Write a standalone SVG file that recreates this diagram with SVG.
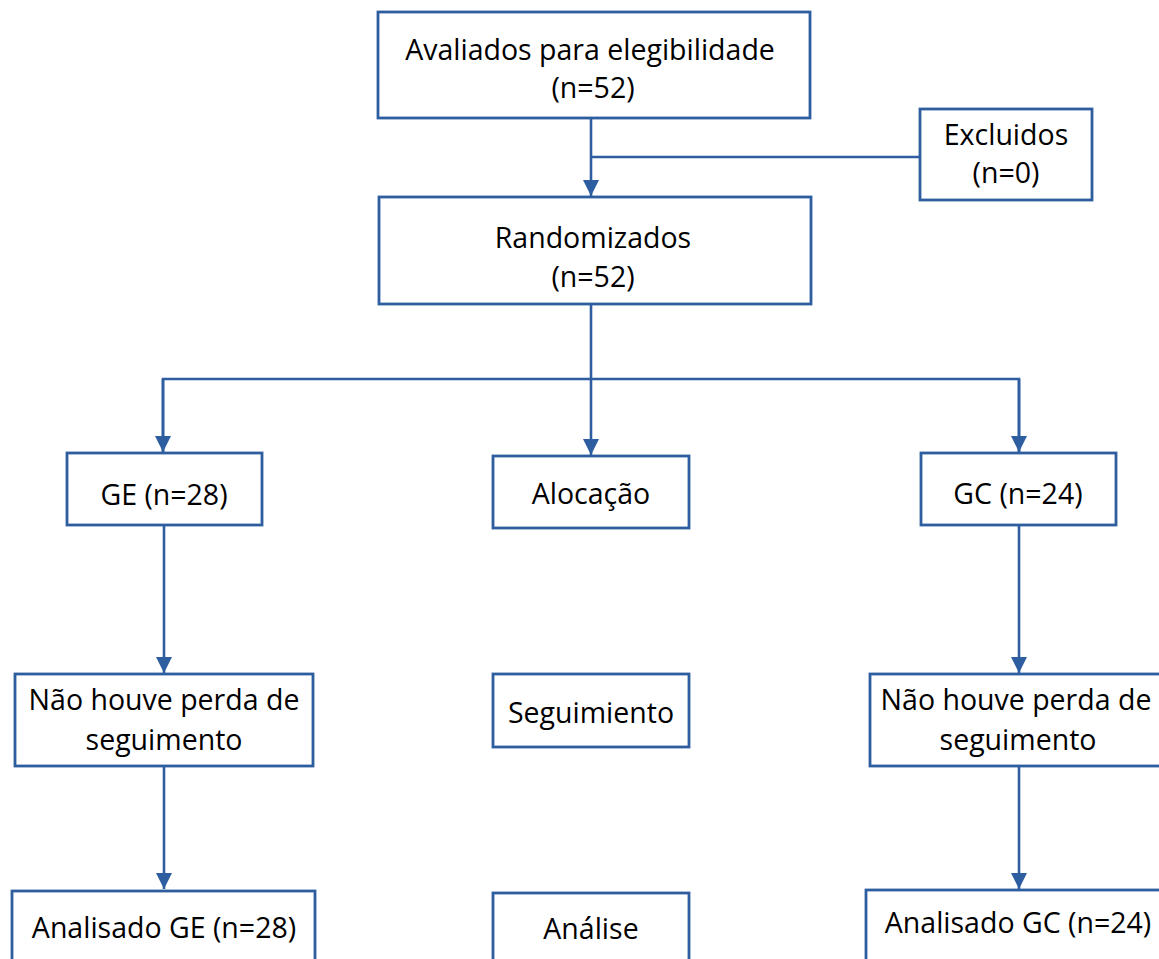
<svg xmlns="http://www.w3.org/2000/svg" width="1159" height="959" viewBox="0 0 1159 959">
<style>
.box{fill:#fff;stroke:#2E5E9F;stroke-width:2.8}
.ln{fill:none;stroke:#2E5E9F;stroke-width:2.6}
text{font-family:"Open Sans","Noto Sans","Liberation Sans",sans-serif;font-size:28.5px;fill:#000;text-anchor:middle}
</style>
<defs>
<marker id="ah" viewBox="0 0 16 16" refX="16" refY="8" markerWidth="16" markerHeight="16" markerUnits="userSpaceOnUse" orient="auto">
<path d="M0,0 L16,8 L0,16 Z" fill="#2E5E9F"/>
</marker>
</defs>
<rect width="1159" height="959" fill="#fff"/>
<g id="connectors">
<path class="ln" d="M591,119 V196" marker-end="url(#ah)"/>
<path class="ln" d="M591,157 H920"/>
<path class="ln" d="M591,304 V455" marker-end="url(#ah)"/>
<path class="ln" d="M163,452 V379 H1019 V452" />
<path class="ln" d="M163,379 V452" marker-end="url(#ah)"/>
<path class="ln" d="M1019,379 V452" marker-end="url(#ah)"/>
<path class="ln" d="M164,525 V673" marker-end="url(#ah)"/>
<path class="ln" d="M164,766 V889" marker-end="url(#ah)"/>
<path class="ln" d="M1019,525 V673" marker-end="url(#ah)"/>
<path class="ln" d="M1019,766 V889" marker-end="url(#ah)"/>
</g>
<g id="avaliados">
<rect class="box" x="378" y="12" width="432" height="106"/>
<text x="590" y="60">Avaliados para elegibilidade</text>
<text x="593" y="98">(n=52)</text>
</g>
<g id="excluidos">
<rect class="box" x="920" y="109" width="172" height="91"/>
<text x="1006" y="145">Excluidos</text>
<text x="1006" y="183">(n=0)</text>
</g>
<g id="randomizados">
<rect class="box" x="379" y="197" width="432" height="107"/>
<text x="593" y="248">Randomizados</text>
<text x="593" y="287">(n=52)</text>
</g>
<g id="ge">
<rect class="box" x="67" y="453" width="195" height="72"/>
<text x="164" y="505">GE (n=28)</text>
</g>
<g id="alocacao">
<rect class="box" x="493" y="456" width="196" height="72"/>
<text x="591" y="504">Alocação</text>
</g>
<g id="gc">
<rect class="box" x="921" y="453" width="195" height="72"/>
<text x="1018" y="504">GC (n=24)</text>
</g>
<g id="seguimento-ge">
<rect class="box" x="15" y="674" width="298" height="92"/>
<text x="164" y="710">Não houve perda de</text>
<text x="164" y="750">seguimento</text>
</g>
<g id="seguimiento">
<rect class="box" x="493" y="674" width="196" height="73"/>
<text x="591" y="723">Seguimiento</text>
</g>
<g id="seguimento-gc">
<rect class="box" x="870" y="674" width="298" height="92"/>
<text x="1016" y="710">Não houve perda de</text>
<text x="1018" y="750">seguimento</text>
</g>
<g id="analisado-ge">
<rect class="box" x="12" y="891" width="303" height="90"/>
<text x="164" y="938">Analisado GE (n=28)</text>
</g>
<g id="analise">
<rect class="box" x="493" y="893" width="196" height="90"/>
<text x="591" y="939">Análise</text>
</g>
<g id="analisado-gc">
<rect class="box" x="866" y="890" width="303" height="90"/>
<text x="1018" y="933">Analisado GC (n=24)</text>
</g>
</svg>
